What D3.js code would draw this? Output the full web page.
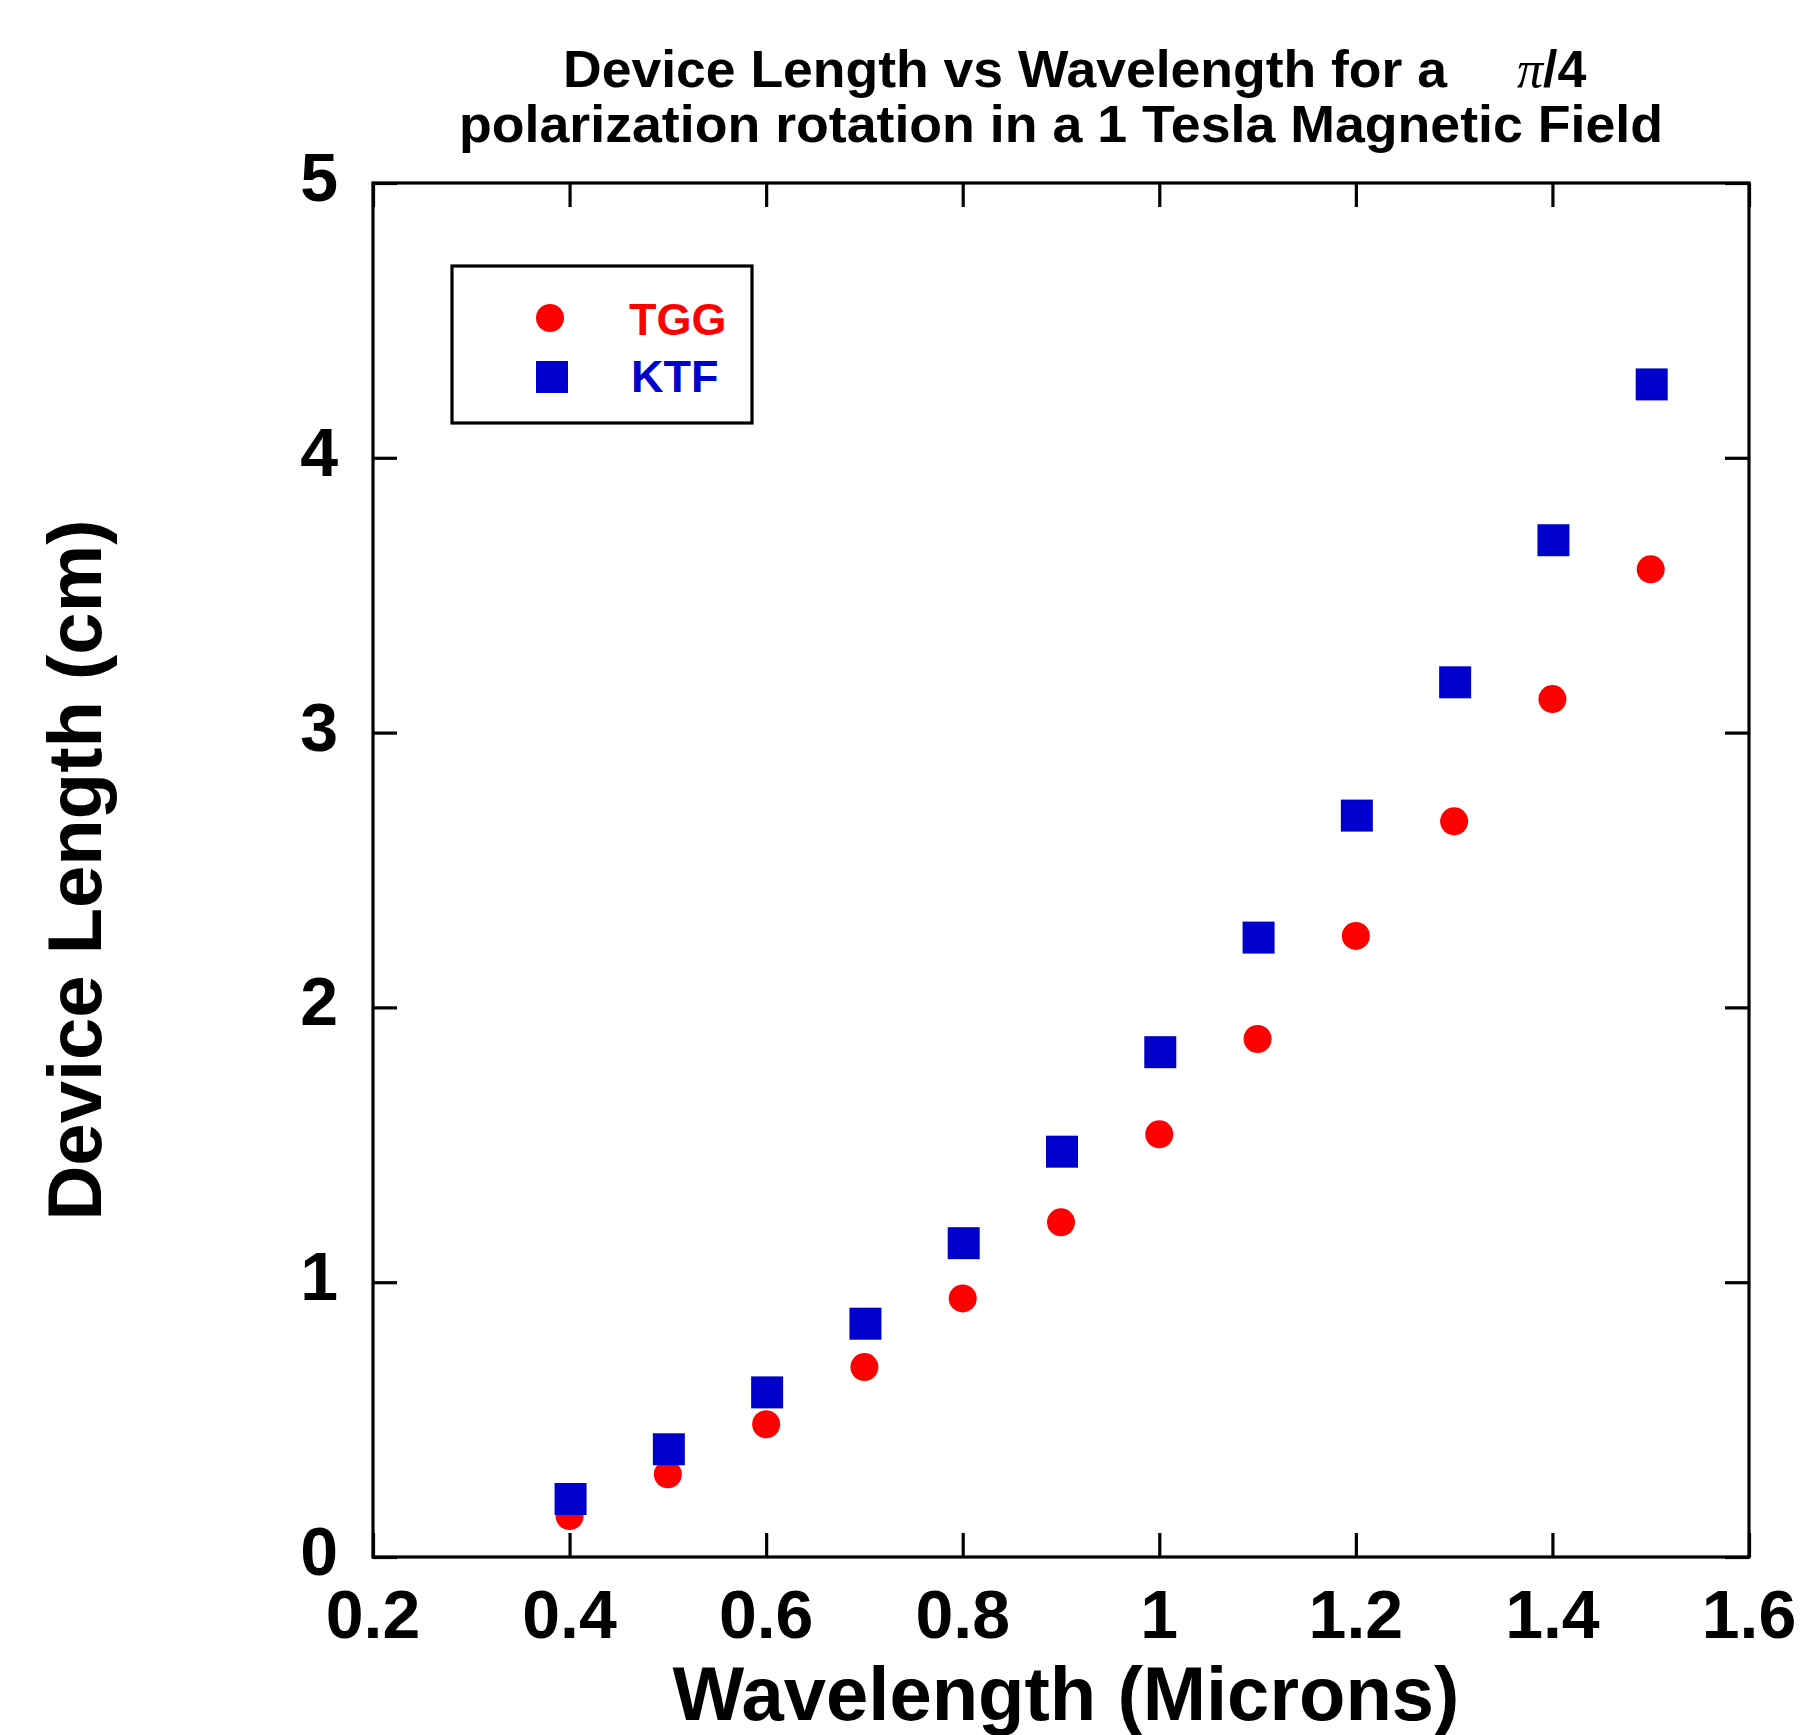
<!DOCTYPE html>
<html>
<head>
<meta charset="utf-8">
<script src="https://cdn.jsdelivr.net/npm/d3@7"></script>
<style>
  html, body { margin: 0; padding: 0; background: #fff; }
  svg { display: block; }
  text { font-family: "Liberation Sans", Arial, Helvetica, sans-serif; font-weight: bold; }
</style>
</head>
<body>
<svg id="chart" width="1806" height="1735"></svg>
<script>
// ---- data ----
const wavelengths = [0.4, 0.5, 0.6, 0.7, 0.8, 0.9, 1.0, 1.1, 1.2, 1.3, 1.4, 1.5];
const tggLength = [0.149, 0.301, 0.483, 0.691, 0.941, 1.218, 1.538, 1.885, 2.260, 2.677, 3.122, 3.594];
const ktfLength = [0.211, 0.392, 0.599, 0.849, 1.142, 1.475, 1.837, 2.254, 2.698, 3.183, 3.700, 4.267];
const seriesNames = ["TGG", "KTF"];
const seriesColors = ["#ff0000", "#0000cc"];
const xTickValues = [0.2, 0.4, 0.6, 0.8, 1.0, 1.2, 1.4, 1.6];
const xTickLabels = ["0.2", "0.4", "0.6", "0.8", "1", "1.2", "1.4", "1.6"];
const yTickValues = [0, 1, 2, 3, 4, 5];
const yTickLabels = ["0", "1", "2", "3", "4", "5"];
const titleLine1 = "Device Length vs Wavelength for a";
const titlePi = "\u03C0";
const titleFrac = "/4";
const titleLine2 = "polarization rotation in a 1 Tesla Magnetic Field";
const xTitle = "Wavelength (Microns)";
const yTitle = "Device Length (cm)";

// ---- layout ----
const L = 373, R = 1749, T = 183, B = 1557;
const svg = d3.select("#chart");

const x = d3.scaleLinear().domain([0.2, 1.6]).range([L, R]);
const y = d3.scaleLinear().domain([0, 5]).range([B, T]);

const tickLen = 24;
const lw = 3.2;

// axes with inward ticks on all four sides
function styleAxis(g) {
  g.select(".domain").remove();
  g.selectAll(".tick line").attr("stroke", "#000").attr("stroke-width", lw);
  g.selectAll(".tick text").remove();
}
svg.append("g").attr("transform", `translate(0,${B})`)
  .call(d3.axisBottom(x).tickValues(xTickValues).tickSize(-tickLen)).call(styleAxis);
svg.append("g").attr("transform", `translate(0,${T})`)
  .call(d3.axisTop(x).tickValues(xTickValues).tickSize(-tickLen)).call(styleAxis);
svg.append("g").attr("transform", `translate(${L},0)`)
  .call(d3.axisLeft(y).tickValues(yTickValues).tickSize(-tickLen)).call(styleAxis);
svg.append("g").attr("transform", `translate(${R},0)`)
  .call(d3.axisRight(y).tickValues(yTickValues).tickSize(-tickLen)).call(styleAxis);

// frame
svg.append("rect").attr("x", L).attr("y", T).attr("width", R - L).attr("height", B - T)
  .attr("fill", "none").attr("stroke", "#000").attr("stroke-width", lw);

// tick labels
svg.append("g").selectAll("text").data(xTickValues).join("text")
  .attr("x", d => x(d)).attr("y", 1638)
  .attr("text-anchor", "middle").attr("font-size", 68)
  .text((d, i) => xTickLabels[i]);
svg.append("g").selectAll("text").data(yTickValues).join("text")
  .attr("x", 338).attr("y", d => y(d) + 18)
  .attr("text-anchor", "end").attr("font-size", 68)
  .text((d, i) => yTickLabels[i]);

// axis titles
svg.append("text").attr("x", (L + R) / 2 + 5).attr("y", 1720)
  .attr("text-anchor", "middle").attr("font-size", 76).text(xTitle);
svg.append("text").attr("transform", `translate(101,870) rotate(-90)`)
  .attr("text-anchor", "middle").attr("font-size", 76).text(yTitle);

// title
svg.append("text").attr("x", 563).attr("y", 87).attr("font-size", 52)
  .attr("textLength", 884).attr("lengthAdjust", "spacingAndGlyphs").text(titleLine1);
const piText = svg.append("text").attr("x", 1517).attr("y", 87).attr("font-size", 52);
piText.append("tspan").attr("font-family", "'Liberation Serif', 'Times New Roman', serif")
  .attr("font-style", "italic").attr("font-weight", "normal").text(titlePi);
piText.append("tspan").text(titleFrac);
svg.append("text").attr("x", 459).attr("y", 142).attr("font-size", 52)
  .attr("textLength", 1204).attr("lengthAdjust", "spacingAndGlyphs").text(titleLine2);

// data points
const tggData = wavelengths.map((w, i) => ({ w, v: tggLength[i] }));
const ktfData = wavelengths.map((w, i) => ({ w, v: ktfLength[i] }));
const circR = 14, sq = 32;

svg.append("g").selectAll("circle").data(tggData).join("circle")
  .attr("cx", d => x(d.w)).attr("cy", d => y(d.v)).attr("r", circR)
  .attr("fill", seriesColors[0]);
svg.append("g").selectAll("rect").data(ktfData).join("rect")
  .attr("x", d => x(d.w) - sq / 2 + 1).attr("y", d => y(d.v) - sq / 2)
  .attr("width", sq).attr("height", sq).attr("fill", seriesColors[1]);

// legend
const lg = svg.append("g");
lg.append("rect").attr("x", 452).attr("y", 266).attr("width", 300).attr("height", 157)
  .attr("fill", "#fff").attr("stroke", "#000").attr("stroke-width", lw);
lg.append("circle").attr("cx", 550).attr("cy", 318).attr("r", circR).attr("fill", seriesColors[0]);
lg.append("rect").attr("x", 552 - sq / 2).attr("y", 377 - sq / 2).attr("width", sq).attr("height", sq)
  .attr("fill", seriesColors[1]);
lg.append("text").attr("x", 629).attr("y", 335).attr("font-size", 45)
  .attr("fill", seriesColors[0]).text(seriesNames[0]);
lg.append("text").attr("x", 631).attr("y", 392).attr("font-size", 45)
  .attr("fill", seriesColors[1]).text(seriesNames[1]);
</script>
</body>
</html>
